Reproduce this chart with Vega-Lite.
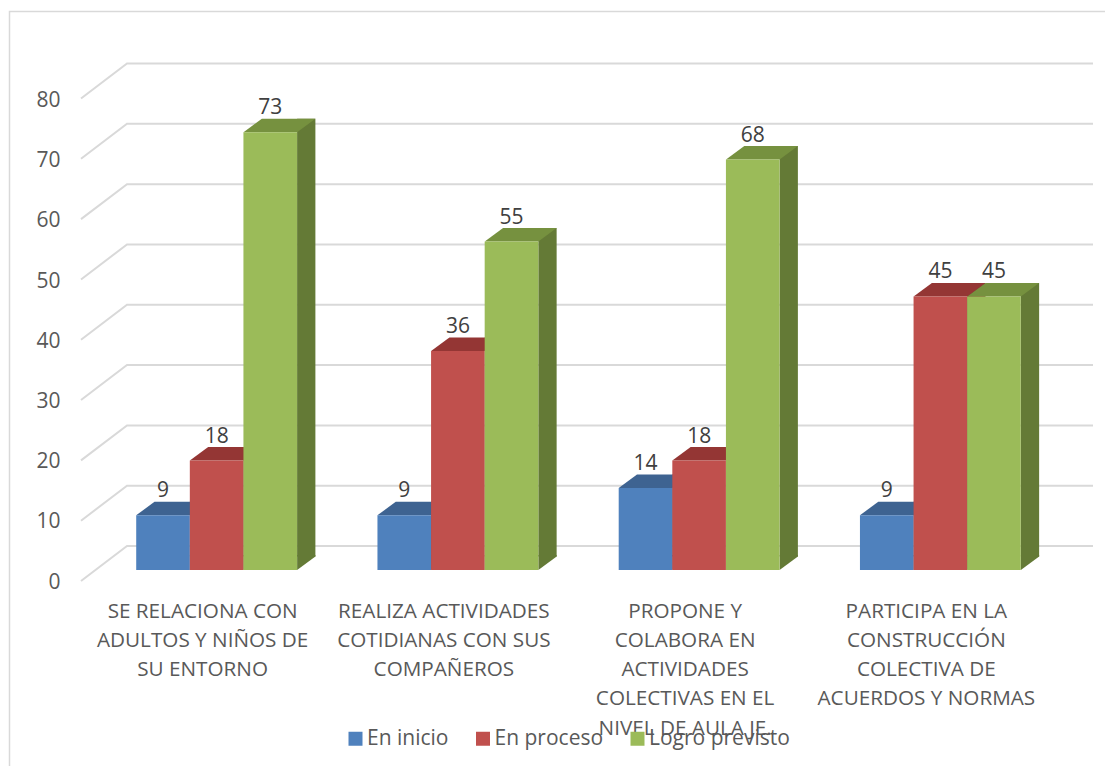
{"$schema":"https://vega.github.io/schema/vega-lite/v6.json","width":965,"height":482.5,"autosize":{"type":"none"},"padding":{"left":96,"top":87.5,"right":44,"bottom":196},"background":"white","config":{"view":{"stroke":null},"axis":{"labelFont":"Open Sans","labelColor":"#595959"},"legend":{"labelFont":"Open Sans"},"text":{"font":"Open Sans"}},"datasets":{"bars":[{"cat":"SE RELACIONA CON|ADULTOS Y NIÑOS DE|SU ENTORNO","series":"En inicio","value":9.09},{"cat":"SE RELACIONA CON|ADULTOS Y NIÑOS DE|SU ENTORNO","series":"En proceso","value":18.18},{"cat":"SE RELACIONA CON|ADULTOS Y NIÑOS DE|SU ENTORNO","series":"Logro previsto","value":72.73},{"cat":"REALIZA ACTIVIDADES|COTIDIANAS CON SUS|COMPAÑEROS","series":"En inicio","value":9.09},{"cat":"REALIZA ACTIVIDADES|COTIDIANAS CON SUS|COMPAÑEROS","series":"En proceso","value":36.36},{"cat":"REALIZA ACTIVIDADES|COTIDIANAS CON SUS|COMPAÑEROS","series":"Logro previsto","value":54.55},{"cat":"PROPONE Y|COLABORA EN|ACTIVIDADES|COLECTIVAS EN EL|NIVEL DE AULA JE.","series":"En inicio","value":13.64},{"cat":"PROPONE Y|COLABORA EN|ACTIVIDADES|COLECTIVAS EN EL|NIVEL DE AULA JE.","series":"En proceso","value":18.18},{"cat":"PROPONE Y|COLABORA EN|ACTIVIDADES|COLECTIVAS EN EL|NIVEL DE AULA JE.","series":"Logro previsto","value":68.18},{"cat":"PARTICIPA EN LA|CONSTRUCCIÓN|COLECTIVA DE|ACUERDOS Y NORMAS","series":"En inicio","value":9.09},{"cat":"PARTICIPA EN LA|CONSTRUCCIÓN|COLECTIVA DE|ACUERDOS Y NORMAS","series":"En proceso","value":45.45},{"cat":"PARTICIPA EN LA|CONSTRUCCIÓN|COLECTIVA DE|ACUERDOS Y NORMAS","series":"Logro previsto","value":45.45}],"grid":[{"v":0},{"v":10},{"v":20},{"v":30},{"v":40},{"v":50},{"v":60},{"v":70},{"v":80}]},"resolve":{"scale":{"y":"independent","color":"independent","xOffset":"independent"}},"layer":[{"data":{"values":[{"frame":"chart area"}]},"mark":{"type":"point","shape":"M-569,445L-569,-317.25L535,-317.25","size":4,"filled":false,"stroke":"#d9d9d9","strokeWidth":1.5,"opacity":1},"encoding":{}},{"data":{"name":"grid"},"mark":{"type":"point","shape":"M-497.5,11L-451.5,-24L514.5,-24","size":4,"filled":false,"stroke":"#d9d9d9","strokeWidth":2,"opacity":1},"encoding":{"y":{"field":"v","type":"quantitative","axis":null,"scale":{"domain":[0,80],"range":[482.5,0]}}}},{"data":{"name":"bars"},"mark":{"type":"bar","width":18.3},"encoding":{"x":{"field":"cat","type":"nominal","sort":null,"scale":{"paddingInner":0.3333,"paddingOuter":0.16667},"axis":{"title":null,"domain":false,"ticks":false,"grid":false,"labelAngle":0,"labelFontSize":20.7,"labelPadding":41,"labelOffset":-14,"labelBaseline":"middle","labelLineHeight":29.3,"labelLimit":400,"labelOverlap":false,"labelExpr":"split(datum.label,'|')"}},"xOffset":{"field":"series","type":"nominal","scale":{"paddingInner":0,"paddingOuter":0,"range":[35.95,196.85]}},"y":{"field":"value","type":"quantitative","axis":null,"scale":{"domain":[0,80],"range":[469,-12.6]}},"color":{"field":"series","type":"nominal","legend":null,"scale":{"domain":["En inicio","En proceso","Logro previsto"],"range":["#2f4f78","#7a2e2c","#647a36"]}}}},{"data":{"name":"bars"},"mark":{"type":"point","shape":"M0,0L18.3,-13.5L18.3,-15L0,-15Z","size":4,"filled":true,"opacity":1},"encoding":{"x":{"field":"cat","type":"nominal","sort":null,"axis":{"title":null,"domain":false,"ticks":false,"grid":false,"labelAngle":0,"labelFontSize":20.7,"labelPadding":41,"labelOffset":-14,"labelBaseline":"middle","labelLineHeight":29.3,"labelLimit":400,"labelOverlap":false,"labelExpr":"split(datum.label,'|')"}},"xOffset":{"field":"series","type":"nominal","scale":{"paddingInner":0,"paddingOuter":0,"range":[53.6,160.9]}},"y":{"datum":0,"type":"quantitative","axis":null,"scale":{"domain":[0,80],"range":[482.5,0.9]}},"color":{"field":"series","type":"nominal","legend":null,"scale":{"domain":["En inicio","En proceso","Logro previsto"],"range":["#2f4f78","#7a2e2c","#647a36"]}}}},{"data":{"name":"bars"},"mark":{"type":"point","shape":"M0,0L18.3,-13.5L71.9,-13.5L53.6,0Z","size":4,"filled":true,"opacity":1},"encoding":{"x":{"field":"cat","type":"nominal","sort":null,"axis":{"title":null,"domain":false,"ticks":false,"grid":false,"labelAngle":0,"labelFontSize":20.7,"labelPadding":41,"labelOffset":-14,"labelBaseline":"middle","labelLineHeight":29.3,"labelLimit":400,"labelOverlap":false,"labelExpr":"split(datum.label,'|')"}},"xOffset":{"field":"series","type":"nominal","scale":{"paddingInner":0,"paddingOuter":0,"range":[0,107.3]}},"y":{"field":"value","type":"quantitative","axis":null,"scale":{"domain":[0,80],"range":[482.5,0.9]}},"color":{"field":"series","type":"nominal","legend":null,"scale":{"domain":["En inicio","En proceso","Logro previsto"],"range":["#3e6391","#943634","#76913f"]}}}},{"data":{"name":"bars"},"mark":{"type":"bar"},"encoding":{"x":{"field":"cat","type":"nominal","sort":null,"axis":{"title":null,"domain":false,"ticks":false,"grid":false,"labelAngle":0,"labelFontSize":20.7,"labelPadding":41,"labelOffset":-14,"labelBaseline":"middle","labelLineHeight":29.3,"labelLimit":400,"labelOverlap":false,"labelExpr":"split(datum.label,'|')"}},"xOffset":{"field":"series","type":"nominal","scale":{"paddingInner":0,"paddingOuter":0}},"y":{"field":"value","type":"quantitative","scale":{"domain":[0,80],"range":[482.5,0.9]},"axis":{"title":null,"domain":false,"ticks":false,"grid":false,"values":[0,10,20,30,40,50,60,70,80],"labelFontSize":21,"labelPadding":36,"labelOffset":12}},"color":{"field":"series","type":"nominal","scale":{"domain":["En inicio","En proceso","Logro previsto"],"range":["#4f81bd","#c0504d","#9bbb59"]},"legend":{"title":null,"orient":"none","direction":"horizontal","columns":3,"legendX":249,"legendY":640.5,"symbolType":"square","symbolSize":196,"symbolStrokeWidth":0,"symbolOpacity":1,"labelFontSize":21,"labelColor":"#595959","labelOffset":1,"columnPadding":23.5,"padding":0}}}},{"data":{"name":"bars"},"mark":{"type":"text","fontSize":21,"color":"#404040","baseline":"middle","dy":-24},"encoding":{"x":{"field":"cat","type":"nominal","sort":null,"axis":{"title":null,"domain":false,"ticks":false,"grid":false,"labelAngle":0,"labelFontSize":20.7,"labelPadding":41,"labelOffset":-14,"labelBaseline":"middle","labelLineHeight":29.3,"labelLimit":400,"labelOverlap":false,"labelExpr":"split(datum.label,'|')"}},"xOffset":{"field":"series","type":"nominal","scale":{"paddingInner":0,"paddingOuter":0,"range":[26.8,134.1]}},"y":{"field":"value","type":"quantitative","axis":null,"scale":{"domain":[0,80],"range":[482.5,0.9]}},"text":{"field":"value","type":"quantitative","format":".0f"}}}]}
